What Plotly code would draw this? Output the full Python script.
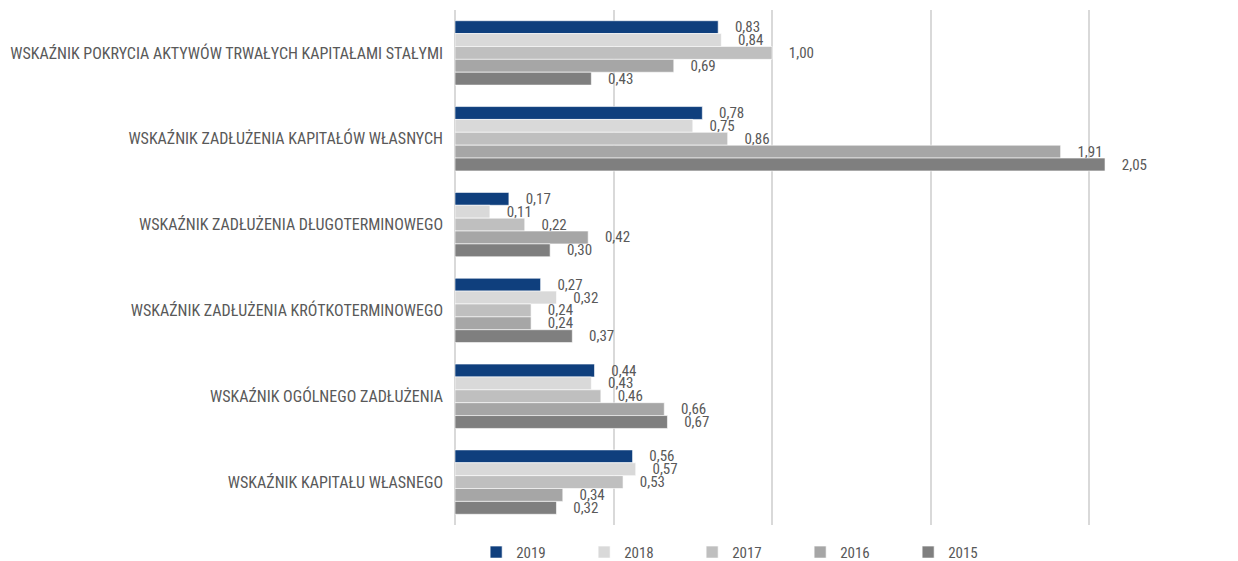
import plotly.graph_objects as go

categories = [
    "WSKAŹNIK POKRYCIA AKTYWÓW TRWAŁYCH KAPITAŁAMI STAŁYMI",
    "WSKAŹNIK ZADŁUŻENIA KAPITAŁÓW WŁASNYCH",
    "WSKAŹNIK ZADŁUŻENIA DŁUGOTERMINOWEGO",
    "WSKAŹNIK ZADŁUŻENIA KRÓTKOTERMINOWEGO",
    "WSKAŹNIK OGÓLNEGO ZADŁUŻENIA",
    "WSKAŹNIK KAPITAŁU WŁASNEGO",
]
years = ["2019", "2018", "2017", "2016", "2015"]
v2019 = [0.83, 0.78, 0.17, 0.27, 0.44, 0.56]
v2018 = [0.84, 0.75, 0.11, 0.32, 0.43, 0.57]
v2017 = [1.00, 0.86, 0.22, 0.24, 0.46, 0.53]
v2016 = [0.69, 1.91, 0.42, 0.24, 0.66, 0.34]
v2015 = [0.43, 2.05, 0.30, 0.37, 0.67, 0.32]
series = [v2019, v2018, v2017, v2016, v2015]
colors = ["#0F3F7D", "#D9D9D9", "#BFBFBF", "#A6A6A6", "#7F7F7F"]

FONT = "Liberation Sans Narrow, Arial Narrow, Roboto Condensed, Liberation Sans, Arial, sans-serif"
TXT = "#595959"

fig = go.Figure()
for name, vals, col in zip(years, series, colors):
    fig.add_trace(go.Bar(
        name=name, y=categories, x=vals, orientation="h",
        marker=dict(color=col, line=dict(color="white", width=0.6)),
        texttemplate="\u00a0\u00a0\u00a0\u00a0%{x:.2f}",
        textposition="outside",
        constraintext="none",
        cliponaxis=False,
        textfont=dict(family=FONT, size=15, color=TXT),
    ))

fig.update_layout(
    width=1230, height=553,
    barmode="group", bargap=0.25, bargroupgap=0,
    separators=", ",
    paper_bgcolor="white", plot_bgcolor="white",
    margin=dict(l=447, r=22, t=2, b=36, autoexpand=False),
    font=dict(family=FONT, size=15, color=TXT),
    xaxis=dict(range=[0, 2.4], dtick=0.5, showticklabels=False,
               showgrid=True, gridcolor="#D9D9D9", gridwidth=1.5,
               zeroline=True, zerolinecolor="#D9D9D9", zerolinewidth=1.5,
               fixedrange=True),
    yaxis=dict(categoryorder="array", categoryarray=categories,
               autorange="reversed", showgrid=False, ticks="",
               ticklabelstandoff=11,
               tickfont=dict(family=FONT, size=16, color=TXT)),
    legend=dict(orientation="h", xref="container", yref="paper",
                x=0.3806, xanchor="left", y=-0.021, yanchor="top",
                entrywidth=63, entrywidthmode="pixels",
                itemwidth=30,
                font=dict(family=FONT, size=15, color=TXT),
                traceorder="normal"),
    showlegend=True,
)

fig.write_html("out.html")
